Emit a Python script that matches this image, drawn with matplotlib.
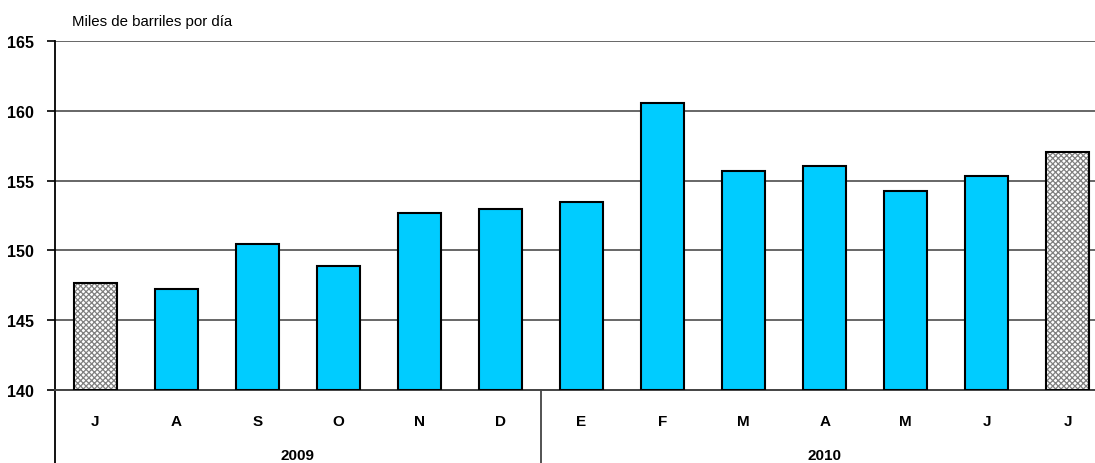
import numpy as np
import matplotlib.pyplot as plt

plt.rcParams['font.family'] = ['Liberation Sans', 'DejaVu Sans']

months = ['J', 'A', 'S', 'O', 'N', 'D', 'E', 'F', 'M', 'A', 'M', 'J', 'J']
values = [147.7, 147.2, 150.45, 148.9, 152.7, 152.95, 153.5, 160.55, 155.7, 156.05, 154.25, 155.3, 157.05]
hatched = [True] + [False] * 11 + [True]
years = ['2009', '2010']
year_groups = [(0, 5), (6, 12)]

fig = plt.figure(figsize=(10.95, 4.64), dpi=100)
# plot area runs past the right edge of the figure, like the original
ax = fig.add_axes([54.5 / 1095, 1 - 391 / 464, 1054 / 1095, 349 / 464])

x = np.arange(len(values))
base = 140
heights = np.array(values) - base
blue = [v for v, h in zip(heights, hatched) if not h]
xb = [i for i, h in zip(x, hatched) if not h]
xh = [i for i, h in zip(x, hatched) if h]
hh = [v for v, h in zip(heights, hatched) if h]

ax.bar(xb, blue, bottom=base, width=0.53, color='#00CCFF', edgecolor='black', linewidth=1.5, zorder=3)
plt.rcParams['hatch.linewidth'] = 0.9
ax.bar(xh, hh, bottom=base, width=0.53, color='white', edgecolor='#808080', hatch='xxxxxx', linewidth=0, zorder=3)
ax.bar(xh, hh, bottom=base, width=0.53, fill=False, edgecolor='black', linewidth=1.5, zorder=4)

ax.set_ylim(140, 165)
ax.set_xlim(-0.5, len(values) - 0.5)
ax.set_yticks(np.arange(140, 166, 5))
ax.yaxis.grid(True, color='#666666', linewidth=1.4, zorder=0)
ax.set_axisbelow(True)
for s in ['top', 'right']:
    ax.spines[s].set_visible(False)
ax.spines['left'].set_linewidth(1.3)
ax.spines['bottom'].set_linewidth(1.4)
ax.spines['bottom'].set_color('#444444')
ax.tick_params(axis='y', direction='out', length=6, width=1.2, pad=9, labelsize=11.5)
for t in ax.get_yticklabels():
    t.set_fontweight('bold')
ax.set_xticks(x)
ax.set_xticklabels(months, fontweight='bold', fontsize=11)
ax.tick_params(axis='x', length=0, pad=17)

# vertical lines below axis
trans = ax.get_xaxis_transform()
for xv in [-0.5, 5.5]:
    ax.plot([xv, xv], [0, -0.21], transform=trans, color='#444444' if xv > 0 else 'black',
            linewidth=1.3, clip_on=False)
for yr, (a, b) in zip(years, year_groups):
    ax.text((a + b) / 2, -0.186, yr, transform=trans, ha='center', va='center',
            fontsize=11, fontweight='bold')

fig.text(72 / 1095, 1 - 22 / 464, 'Miles de barriles por día', ha='left', va='center', fontsize=10.8)

fig.savefig('out.png', dpi=100)
